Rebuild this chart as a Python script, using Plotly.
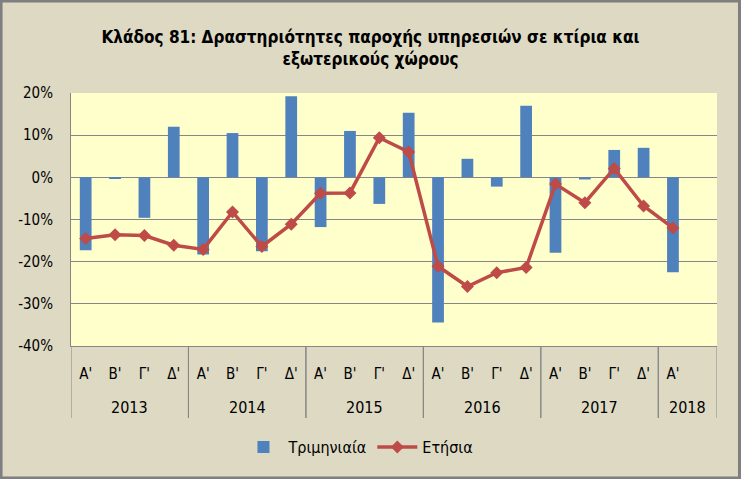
import plotly.graph_objects as go

# Quarter / year categories (the last 2018 slot is empty in the original)
years = ["2013"] * 4 + ["2014"] * 4 + ["2015"] * 4 + ["2016"] * 4 + ["2017"] * 4 + ["2018"] * 2
quarters = ["Α'", "Β'", "Γ'", "Δ'"] * 5 + ["Α'", ""]

# Quarterly change (bars), %
quarterly = [-17.3, -0.3, -9.6, 12.0,
             -18.3, 10.5, -17.5, 19.2,
             -11.8, 11.0, -6.3, 15.3,
             -34.4, 4.4, -2.2, 17.0,
             -17.9, -0.5, 6.5, 7.0,
             -22.5, None]

# Annual change (line), %
annual = [-14.5, -13.6, -13.8, -16.1,
          -17.1, -8.2, -16.4, -11.1,
          -3.8, -3.7, 9.4, 6.0,
          -21.1, -25.9, -22.6, -21.4,
          -1.6, -6.0, 2.1, -6.8,
          -12.0, None]

ytick_vals = [-0.4, -0.3, -0.2, -0.1, 0.0, 0.1, 0.2]
ytick_text = ["-40%", "-30%", "-20%", "-10%", "0%", "10%", "20%"]

to_frac = lambda vals: [None if v is None else v / 100 for v in vals]
pos = list(range(len(quarters)))

FONT = "DejaVu Sans Condensed, DejaVu Sans, sans-serif"
GRID = "#868686"

fig = go.Figure()

fig.add_trace(go.Bar(
    x=pos,
    y=to_frac(quarterly),
    name="Τριμηνιαία",
    width=0.4,
    marker=dict(color="#4F81BD", line=dict(width=0)),
))

fig.add_trace(go.Scatter(
    x=pos,
    y=to_frac(annual),
    name="Ετήσια",
    mode="lines+markers",
    line=dict(color="#BE4B48", width=3.5),
    marker=dict(symbol="diamond", size=10, color="#BE4B48"),
))

# year group labels and dividers below the axis
shapes = []
annotations = []
groups = []
for i, y in enumerate(years):
    if groups and groups[-1][0] == y:
        groups[-1][2] = i
    else:
        groups.append([y, i, i])
for y, a, b in groups:
    annotations.append(dict(
        x=(a + b) / 2, xref="x", y=-61 / 253, yref="paper",
        text=y, showarrow=False, xanchor="center", yanchor="middle",
        font=dict(family=FONT, size=16, color="#000000"),
    ))
    for edge in (a - 0.5, b + 0.5):
        shapes.append(dict(
            type="line", xref="x", yref="paper", x0=edge, x1=edge,
            y0=0, y1=-72 / 253, line=dict(color=GRID, width=1),
        ))

# outer chart border
shapes.append(dict(type="rect", xref="paper", yref="paper",
                   x0=-70 / 646.5, x1=1 + 22.5 / 646.5,
                   y0=-132 / 253, y1=1 + 92 / 253,
                   line=dict(color="#7F7F7F", width=3), layer="above"))

fig.update_layout(
    width=741, height=479,
    margin=dict(l=71, r=23.5, t=93, b=133, autoexpand=False),
    paper_bgcolor="#DDD9C3",
    plot_bgcolor="#FFFFCC",
    font=dict(family=FONT, size=15, color="#000000"),
    title=dict(
        text="<b>Κλάδος 81: Δραστηριότητες παροχής υπηρεσιών σε κτίρια και<br>εξωτερικούς χώρους</b>",
        x=0.5, xref="container", xanchor="center",
        y=1 - 43 / 479, yref="container", yanchor="middle",
        font=dict(family=FONT, size=17, color="#000000"),
    ),
    legend=dict(
        orientation="h", x=0.445, xanchor="center", y=-101 / 253, yanchor="middle",
        font=dict(family=FONT, size=16),
        bgcolor="rgba(0,0,0,0)",
        itemwidth=40,
    ),
    shapes=shapes,
    annotations=annotations,
)

fig.update_xaxes(
    range=[-0.5, len(quarters) - 0.5],
    tickmode="array", tickvals=pos, ticktext=quarters,
    ticks="", ticklabelstandoff=14,
    showline=True, linecolor=GRID, linewidth=1,
    showgrid=False, zeroline=False, automargin=False,
    tickfont=dict(family=FONT, size=15),
)

fig.update_yaxes(
    range=[-0.40, 0.20],
    tickmode="array", tickvals=ytick_vals, ticktext=ytick_text,
    showgrid=True, gridcolor=GRID, gridwidth=1,
    zeroline=True, zerolinecolor=GRID, zerolinewidth=1,
    showline=True, linecolor=GRID, linewidth=1,
    ticks="", ticklabelstandoff=14, automargin=False,
    tickfont=dict(family=FONT, size=15),
)

fig.write_html("out.html", config={"displayModeBar": False},
               post_script="document.body.style.margin='0';")
